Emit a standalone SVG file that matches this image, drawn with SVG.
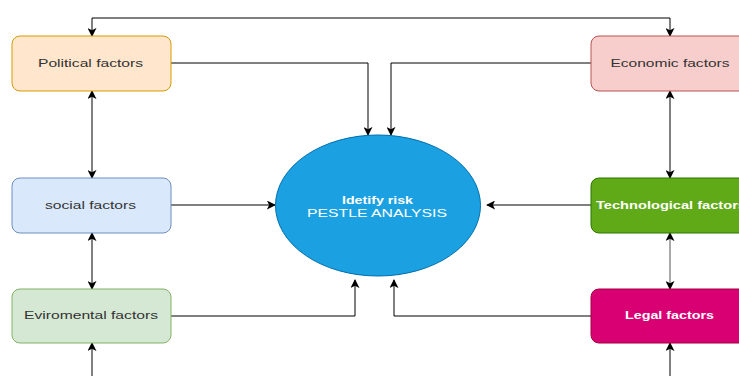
<svg xmlns="http://www.w3.org/2000/svg" width="739" height="376" viewBox="0 0 739 376">
<style>
.box{stroke-width:1}
.lbl{font-family:"Liberation Sans",Arial,sans-serif;font-size:11.5px;text-anchor:middle;dominant-baseline:central}
.dark{fill:#333333}
.light{fill:#ffffff}
.bold{font-weight:bold}
.c{fill:none;stroke:#000000;stroke-width:1}
</style>
<defs>
<marker id="ah" viewBox="0 0 10 10" refX="9" refY="5" markerWidth="9" markerHeight="9" markerUnits="userSpaceOnUse" orient="auto-start-reverse">
<path d="M0,0 L10,5 L0,10 L2.5,5 Z" fill="#000"/>
</marker>
</defs>
<rect width="739" height="376" fill="#ffffff"/>
<g id="connectors">
<path class="c" d="M92,36 V18 H670 V36" marker-start="url(#ah)" marker-end="url(#ah)"/>
<path class="c" d="M171,63 H368 V135" marker-end="url(#ah)"/>
<path class="c" d="M591,63 H391 V135" marker-end="url(#ah)"/>
<path class="c" d="M171,205 H275" marker-end="url(#ah)"/>
<path class="c" d="M591,205 H487" marker-end="url(#ah)"/>
<path class="c" d="M171,316 H355 V280" marker-end="url(#ah)"/>
<path class="c" d="M591,316 H394 V280" marker-end="url(#ah)"/>
<path class="c" d="M92,91 V178" marker-start="url(#ah)" marker-end="url(#ah)"/>
<path class="c" d="M92,233 V289" marker-start="url(#ah)" marker-end="url(#ah)"/>
<path class="c" d="M92,376 V343" marker-end="url(#ah)"/>
<path class="c" d="M670,91 V178" marker-start="url(#ah)" marker-end="url(#ah)"/>
<path class="c" d="M670,233 V289" style="stroke:#555" marker-start="url(#ah)" marker-end="url(#ah)"/>
<path class="c" d="M670,376 V343" marker-end="url(#ah)"/>
</g>
<g id="political">
<rect class="box" x="12" y="36" width="159" height="55" rx="8" fill="#ffe6cc" stroke="#d79b00"/>
<text class="lbl dark" x="90.5" y="63" textLength="105" lengthAdjust="spacingAndGlyphs">Political factors</text>
</g>
<g id="economic">
<rect class="box" x="591" y="36" width="159" height="55" rx="8" fill="#f8cecc" stroke="#b85450"/>
<text class="lbl dark" x="670" y="63" textLength="119" lengthAdjust="spacingAndGlyphs">Economic factors</text>
</g>
<g id="social">
<rect class="box" x="12" y="178" width="159" height="55" rx="8" fill="#dae8fc" stroke="#6c8ebf"/>
<text class="lbl dark" x="90.5" y="205" textLength="91" lengthAdjust="spacingAndGlyphs">social factors</text>
</g>
<g id="technological">
<rect class="box" x="591" y="178" width="159" height="55" rx="8" fill="#60a917" stroke="#2d7600"/>
<text class="lbl light bold" x="671" y="205" textLength="150" lengthAdjust="spacingAndGlyphs">Technological factors</text>
</g>
<g id="environmental">
<rect class="box" x="12" y="289" width="159" height="54" rx="8" fill="#d5e8d4" stroke="#82b366"/>
<text class="lbl dark" x="91" y="315" textLength="134" lengthAdjust="spacingAndGlyphs">Eviromental factors</text>
</g>
<g id="legal">
<rect class="box" x="591" y="289" width="159" height="54" rx="8" fill="#d80073" stroke="#a50040"/>
<text class="lbl light bold" x="669.5" y="315" textLength="89" lengthAdjust="spacingAndGlyphs">Legal factors</text>
</g>
<g id="pestle">
<ellipse cx="378" cy="205.5" rx="102.5" ry="70.5" fill="#1ba1e2" stroke="#006eaf"/>
<text class="lbl light bold" x="377.5" y="199.5" textLength="71" lengthAdjust="spacingAndGlyphs">Idetify risk</text>
<text class="lbl light" x="377" y="213" textLength="140" lengthAdjust="spacingAndGlyphs">PESTLE ANALYSIS</text>
</g>
</svg>
